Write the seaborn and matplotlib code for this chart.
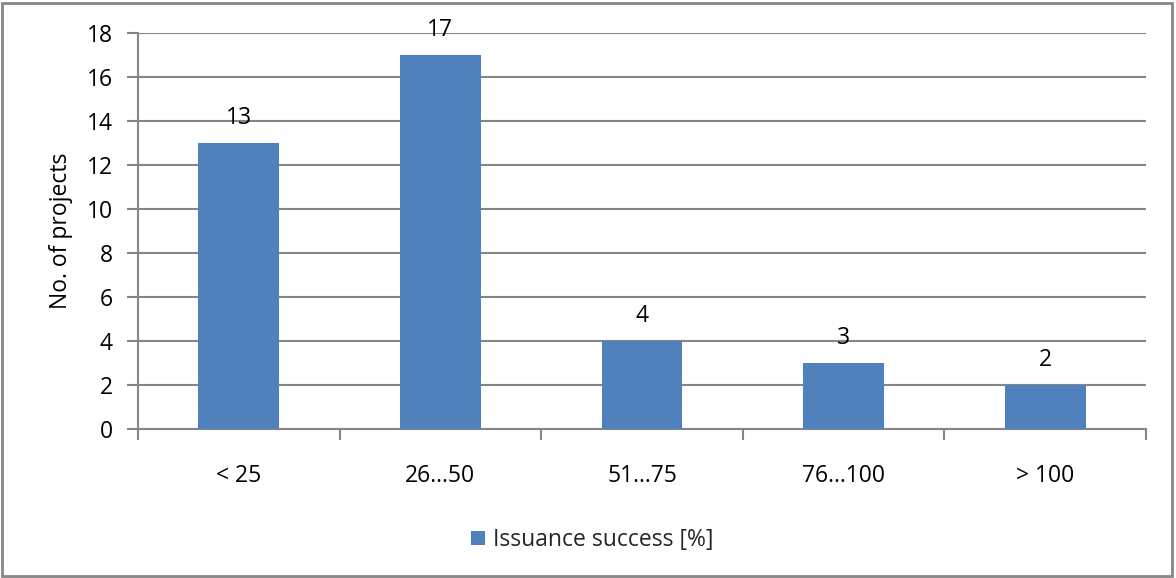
import matplotlib
matplotlib.use("Agg")
import matplotlib.pyplot as plt
import seaborn as sns
import pandas as pd
from matplotlib.patches import Rectangle, Patch
from matplotlib.ticker import FixedLocator

categories = ["< 25", "26…50", "51…75", "76…100", "> 100"]
projects = [13, 17, 4, 3, 2]
series_name = "Issuance success [%]"
y_ticks = [0, 2, 4, 6, 8, 10, 12, 14, 16, 18]

sns.set_theme(style="white")
plt.rcParams["font.family"] = ["Open Sans", "DejaVu Sans"]

BAR = "#4f81bd"
GRID = "#868686"
FS = 16.5

df = pd.DataFrame({"category": categories, "projects": projects})

fig = plt.figure(figsize=(11.76, 5.78), dpi=100)
ax = fig.add_axes([138 / 1176, 1 - 429 / 578, (1146 - 138) / 1176, (429 - 33) / 578])

sns.barplot(data=df, x="category", y="projects", color=BAR, width=0.4,
            saturation=1, linewidth=0, ax=ax, zorder=3)

ax.set_xlim(-0.5, len(categories) - 0.5)
ax.set_ylim(0, 18)
ax.set_yticks(y_ticks)
ax.yaxis.grid(True, color=GRID, linewidth=1.5, zorder=0)
ax.set_axisbelow(True)

for s in ["top", "right"]:
    ax.spines[s].set_visible(False)
for s in ["left", "bottom"]:
    ax.spines[s].set_color(GRID)
    ax.spines[s].set_linewidth(1.5)

ax.tick_params(axis="y", which="major", direction="out", length=8, width=1.5,
               color=GRID, left=True, labelsize=FS, pad=10, labelcolor="black")
ax.tick_params(axis="x", which="major", length=0, labelsize=FS, pad=25,
               labelcolor="black")
ax.xaxis.set_minor_locator(FixedLocator([i - 0.5 for i in range(len(categories) + 1)]))
ax.tick_params(axis="x", which="minor", direction="out", length=8, width=1.5,
               color=GRID, bottom=True)

ax.set_xlabel("")
ax.set_ylabel("No. of projects", fontsize=FS, labelpad=10, color="black")

for i, v in enumerate(projects):
    ax.annotate(str(v), (i, v), xytext=(0, 9), textcoords="offset points",
                ha="center", va="bottom", fontsize=FS, color="black")

handle = Patch(facecolor=BAR, edgecolor="none")
fig.legend([handle], [series_name], loc="center", bbox_to_anchor=(592 / 1176, 1 - 540 / 578),
           frameon=False, fontsize=FS, handlelength=0.6, handleheight=0.6,
           handletextpad=0.35)

fig.patches.append(Rectangle((2 / 1176, 2 / 578), 1170 / 1176, 573 / 578,
                             transform=fig.transFigure, fill=False,
                             edgecolor=GRID, linewidth=2))

fig.savefig("out.png", dpi=100, facecolor="white")
